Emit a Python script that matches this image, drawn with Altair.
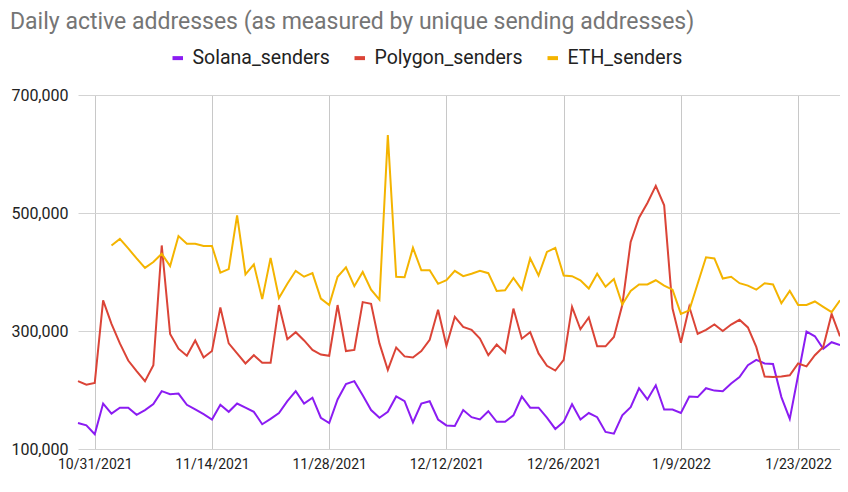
import altair as alt
import pandas as pd

# ---- data (thousands of unique sending addresses), daily from 10/29/2021 ----
start_date = "2021-10-29"
series_names = ["Solana_senders", "Polygon_senders", "ETH_senders"]
colors = ["#8b1cf2", "#db4437", "#f4b400"]

solana = [144, 140, 125, 177, 160, 170, 170, 158, 166, 176, 198, 193, 194, 175, 167, 159,
          150, 175, 163, 177, 170, 163, 142, 151, 161, 181, 198, 177, 187, 153, 144,
          184, 210, 215, 191, 166, 153, 163, 189, 181, 145, 177, 181, 150, 140, 139, 166,
          154, 150, 164, 146, 146, 157, 189, 170, 170, 153, 134, 146, 176, 150, 161,
          154, 129, 126, 157, 171, 203, 184, 208, 167, 167, 161, 189, 188, 203, 199,
          198, 211, 222, 242, 251, 245, 244, 188, 151, 225, 299, 291, 270, 281, 276]

polygon = [215, 209, 212, 352, 312, 279, 250, 232, 215, 242, 445, 295, 270, 258, 284, 255,
           266, 340, 279, 262, 245, 259, 246, 246, 344, 286, 298, 284, 268, 260, 258,
           344, 266, 268, 349, 346, 279, 234, 272, 257, 255, 266, 285, 336, 275, 324, 307,
           302, 287, 259, 277, 263, 338, 287, 298, 262, 241, 233, 251, 341, 303, 323,
           274, 274, 290, 344, 451, 492, 517, 546, 513, 338, 280, 341, 295, 302, 311,
           300, 311, 319, 306, 273, 223, 222, 223, 225, 245, 240, 259, 273, 329, 291]

eth = [None, None, None, None, 445, 456, 440, 423, 407, 417, 431, 410, 461, 448, 448, 444,
       444, 399, 405, 496, 396, 413, 354, 424, 356, 380, 402, 392, 398, 355, 344,
       392, 408, 376, 400, 370, 353, 632, 392, 391, 441, 403, 403, 380, 386, 402, 393,
       397, 402, 398, 368, 369, 390, 370, 423, 394, 434, 441, 394, 393, 386, 372,
       397, 375, 388, 345, 368, 379, 379, 386, 377, 370, 329, 335, 380, 425, 423,
       389, 392, 381, 377, 370, 381, 379, 347, 368, 344, 344, 350, 341, 332, 352]

x_tick_dates = [(2021, 10, 31), (2021, 11, 14), (2021, 11, 28), (2021, 12, 12),
                (2021, 12, 26), (2022, 1, 9), (2022, 1, 23)]
x_domain = [(2021, 10, 29), (2022, 1, 28)]
y_ticks = [100000, 300000, 500000, 700000]

dates = pd.date_range(start_date, periods=len(solana), freq="D")
rows = []
for name, vals in zip(series_names, [solana, polygon, eth]):
    for d, v in zip(dates, vals):
        if v is not None:
            rows.append({"date": d.strftime("%Y-%m-%d"), "series": name, "value": v * 1000})
df = pd.DataFrame(rows)


def dt(t):
    return alt.DateTime(year=t[0], month=t[1], date=t[2], utc=True)


chart = alt.Chart(df).mark_line(strokeWidth=2).encode(
    x=alt.X(
        "date:T",
        scale=alt.Scale(type="utc", domain=[dt(t) for t in x_domain], nice=False),
        axis=alt.Axis(
            values=[dt(t) for t in x_tick_dates],
            labelExpr="utcFormat(datum.value, '%-m/%-d/%Y')",
            title=None, grid=True, domain=False, ticks=False,
            labelFontSize=14, labelColor="#222222", labelPadding=8,
            gridColor="#c8c8c8", labelFont="Roboto",
        ),
    ),
    y=alt.Y(
        "value:Q",
        scale=alt.Scale(domain=[100000, 700000], nice=False, zero=False),
        axis=alt.Axis(
            values=y_ticks, format=",d", title=None, domain=False, ticks=False,
            labelFontSize=16, labelColor="#222222", labelPadding=10,
            gridColor="#d3d3d3", labelFont="Roboto",
        ),
    ),
    color=alt.Color(
        "series:N",
        scale=alt.Scale(domain=series_names, range=colors),
        legend=alt.Legend(
            title=None, orient="none", direction="horizontal",
            legendX=90, legendY=-47,
            symbolType="stroke", symbolStrokeWidth=4, symbolSize=110,
            labelFontSize=19.5, labelColor="#222222", labelFont="Roboto",
            columnPadding=16, labelOffset=5,
        ),
    ),
).properties(
    width=762,
    height=354,
    autosize=alt.AutoSizeParams(type="none"),
    padding={"left": 70, "top": 87, "right": 0, "bottom": 43},
    title=alt.TitleParams(
        "Daily active addresses (as measured by unique sending addresses)",
        anchor="start", frame="group", dx=-68, offset=14,
        fontSize=23, font="Roboto", fontWeight="normal", color="#757575",
    ),
).configure_view(stroke=None)

chart.save("out.html", embed_options={"renderer": "svg", "actions": False})
